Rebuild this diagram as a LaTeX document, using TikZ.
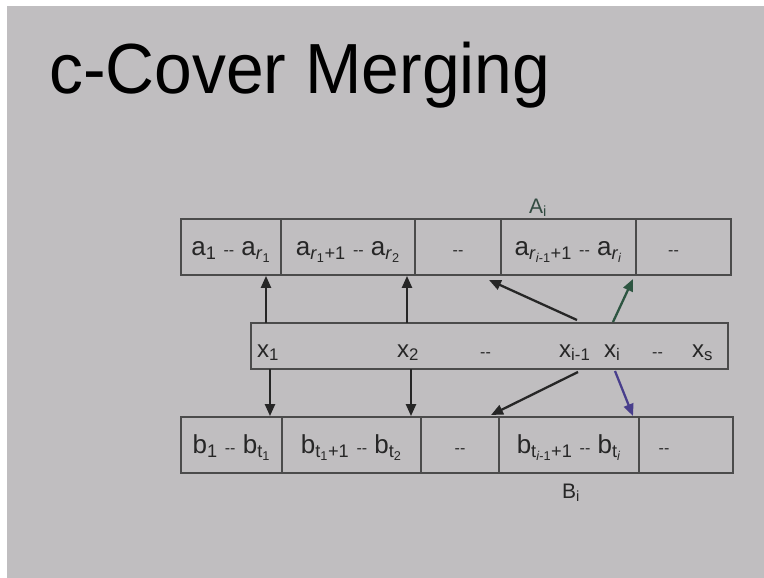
\documentclass[tikz,border=0pt]{standalone}
\usepackage{fontspec}
\setmainfont{Liberation Sans}
\usetikzlibrary{arrows.meta}
\definecolor{slidebg}{RGB}{192,190,192}
\definecolor{boxline}{RGB}{75,75,75}
\definecolor{txt}{RGB}{38,38,38}
\definecolor{arrowblue}{RGB}{72,62,140}
\definecolor{arrowgreen}{RGB}{45,85,65}
\definecolor{labelA}{RGB}{50,75,65}
\newcommand{\sbs}[1]{\textsubscript{#1}}
\newcommand{\dd}{{\fontsize{16}{16}\selectfont -{}-}}
\tikzset{
  cell/.style={draw=boxline, line width=1.8pt, inner sep=0pt, minimum height=56pt,
    text=txt, font=\fontsize{26}{30}\selectfont, text height=17pt, text depth=0pt},
  midbox/.style={draw=boxline, line width=1.8pt, inner sep=0pt, minimum height=46pt, minimum width=477pt},
  xlab/.style={anchor=base west, inner sep=0pt, text=txt, font=\fontsize{24}{28}\selectfont},
  arr/.style={-{Triangle[length=12pt,width=10pt]}, line width=2.3pt, draw=black!85},
}
\begin{document}
\begin{tikzpicture}[x=1pt,y=-1pt]
\useasboundingbox (0,0) rectangle (764,578);
\fill[white] (0,0) rectangle (764,578);
\fill[slidebg] (7,6) rectangle (764,578);

\node[anchor=base west, inner sep=0pt, font=\fontsize{71}{80}\selectfont] (title) at (49,94) {\scalebox{0.955}[1]{c-Cover Merging}};

% top row
\node[cell, minimum width=100pt] (ta1) at (231,247) {a\sbs{1} \dd{} a\sbs{\textit{r}\sbs{1}}};
\node[cell, minimum width=134pt] (ta2) at (348,247) {a\sbs{\textit{r}\sbs{1}+1} \dd{} a\sbs{\textit{r}\sbs{2}}};
\node[cell, minimum width=86pt] (ta3) at (458,247) {\dd};
\node[cell, minimum width=135pt] (ta4) at (568.5,247) {a\sbs{\textit{r}\sbs{\textit{i}-1}+1} \dd{} a\sbs{\textit{r}\sbs{\textit{i}}}};
\node[cell, minimum width=95pt] (ta5) at (683.5,247) {\hspace*{-20pt}\dd};
\node[anchor=base west, inner sep=0pt, text=labelA, font=\fontsize{21}{24}\selectfont] (Ai) at (529,213) {A\sbs{i}};

% middle box
\node[midbox] (mid) at (489.5,346) {};
\node[xlab] (x1) at (257,357) {x\sbs{1}};
\node[xlab] (x2) at (397,357) {x\sbs{2}};
\node[xlab] (xd1) at (480,357) {\dd};
\node[xlab] (xim) at (559,357) {x\sbs{i-1}};
\node[xlab] (xi) at (604,357) {x\sbs{i}};
\node[xlab] (xd2) at (652,357) {\dd};
\node[xlab] (xs) at (692,357) {x\sbs{s}};

% bottom row
\node[cell, minimum width=101pt] (tb1) at (231.5,445) {b\sbs{1} \dd{} b\sbs{t\sbs{1}}};
\node[cell, minimum width=139pt] (tb2) at (351.5,445) {b\sbs{t\sbs{1}+1} \dd{} b\sbs{t\sbs{2}}};
\node[cell, minimum width=78pt] (tb3) at (460,445) {\dd};
\node[cell, minimum width=140pt] (tb4) at (569,445) {b\sbs{t\sbs{\textit{i}-1}+1} \dd{} b\sbs{t\sbs{\textit{i}}}};
\node[cell, minimum width=94pt] (tb5) at (686,445) {\hspace*{-44pt}\dd};
\node[anchor=base west, inner sep=0pt, text=txt, font=\fontsize{21}{24}\selectfont] (Bi) at (562,498) {B\sbs{i}};

% arrow anchor points
\coordinate (u1) at (266,323);
\coordinate (d1) at (270,369);
\coordinate (u2) at (407,323);
\coordinate (d2) at (411,369);
\coordinate (uim) at (577,320);
\coordinate (dim) at (578,372);
\coordinate (ui) at (613,322);
\coordinate (di) at (615,371);
\coordinate (tuim) at (489,280);
\coordinate (tui) at (633,279);
\coordinate (tdim) at (491,415);
\coordinate (tdi) at (633,416);

\draw[arr] (u1) -- (u1 |- ta1.south);
\draw[arr] (d1) -- (d1 |- tb1.north);
\draw[arr] (u2) -- (u2 |- ta2.south);
\draw[arr] (d2) -- (d2 |- tb2.north);
\draw[arr] (uim) -- (tuim);
\draw[arr] (dim) -- (tdim);
\draw[arr, draw=arrowgreen] (ui) -- (tui);
\draw[arr, draw=arrowblue] (di) -- (tdi);
\end{tikzpicture}
\end{document}
